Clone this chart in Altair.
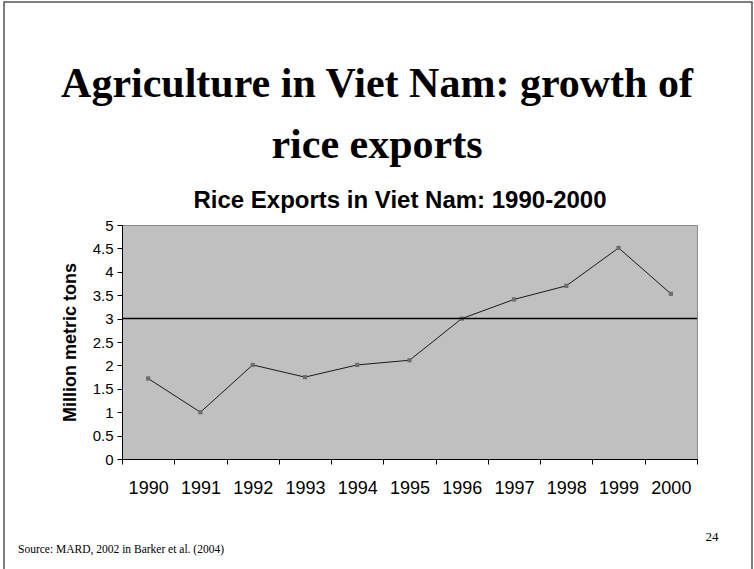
import altair as alt
import pandas as pd

# ---- data ----
years = ["1990", "1991", "1992", "1993", "1994", "1995", "1996", "1997", "1998", "1999", "2000"]
exports = [1.72, 1.0, 2.01, 1.75, 2.01, 2.11, 3.0, 3.41, 3.7, 4.51, 3.53]
ref_value = [3]
y_ticks = [0, 0.5, 1, 1.5, 2, 2.5, 3, 3.5, 4, 4.5, 5]

title_lines = ["Agriculture in Viet Nam: growth of", "rice exports"]
subtitle = "Rice Exports in Viet Nam: 1990-2000"
y_title = "Million metric tons"
source_text = "Source: MARD, 2002 in Barker et al. (2004)"
page_number = "24"

df = pd.DataFrame({"year": years, "exports": exports})

PAD_L, PAD_T = 122, 225
W, H = 575, 234

x_enc = alt.X(
    "year:O",
    scale=alt.Scale(paddingInner=0, paddingOuter=0),
    axis=alt.Axis(
        title=None, labelAngle=0, tickBand="extent", tickSize=5,
        tickColor="black", domainColor="black", labelFontSize=18,
        labelFont="Liberation Sans", labelColor="black", labelPadding=15,
    ),
)
y_scale = alt.Scale(domain=[0, 5], nice=False)
y_axis = alt.Axis(
    values=y_ticks, format="~g", grid=False, tickSize=5, tickColor="black",
    domainColor="black", labelFontSize=15, labelFont="Liberation Sans",
    labelColor="black", labelPadding=4, labelOverlap=False, labelFlush=False,
    title=y_title, titleFont="Liberation Sans",
    titleFontSize=18, titleFontWeight="bold", titleColor="black",
    titleAngle=-90, titleX=-52, titleY=H / 2, titleAlign="center",
    titleBaseline="middle",
)

line = alt.Chart(df).mark_line(color="#1a1a1a", strokeWidth=1).encode(
    x=x_enc, y=alt.Y("exports:Q", scale=y_scale, axis=y_axis)
)
pts = alt.Chart(df).mark_square(size=18, color="#6e6e6e", opacity=1).encode(
    x=x_enc, y=alt.Y("exports:Q", scale=y_scale, axis=y_axis)
)
ref = alt.Chart(pd.DataFrame({"v": ref_value})).mark_rule(color="black", strokeWidth=1.5).encode(
    y=alt.Y("v:Q", scale=y_scale, axis=y_axis)
)


def text_layer(txt, px, py, size, font, weight="normal", align="center"):
    return alt.Chart(pd.DataFrame({"t": [txt]})).mark_text(
        fontSize=size, font=font, fontWeight=weight, align=align,
        baseline="alphabetic", color="black",
    ).encode(text="t:N", x=alt.value(px - PAD_L), y=alt.value(py - PAD_T))


t1 = text_layer(title_lines[0], 377, 97, 42, "Liberation Serif", "bold")
t2 = text_layer(title_lines[1], 377, 158, 42, "Liberation Serif", "bold")
st = text_layer(subtitle, 400, 208, 24, "Liberation Sans", "bold")
src = text_layer(source_text, 18, 553, 11.5, "Liberation Serif", align="left")
pg = text_layer(page_number, 712, 541, 13, "Liberation Serif")

border = alt.Chart(pd.DataFrame({"b": [0]})).mark_rect(
    fill=None, stroke="#555555", strokeWidth=1.5
).encode(
    x=alt.value(4 - PAD_L), x2=alt.value(752 - PAD_L),
    y=alt.value(2 - PAD_T), y2=alt.value(600 - PAD_T),
)

chart = alt.layer(line, pts, ref, t1, t2, st, src, pg, border).properties(
    width=W, height=H,
    autosize=alt.AutoSizeParams(type="none"),
    padding={"left": PAD_L, "top": PAD_T, "right": 754 - PAD_L - W, "bottom": 569 - PAD_T - H},
    background="white",
).configure_view(
    fill="#c0c0c0", stroke="#8a8a8a", strokeWidth=1,
)

chart.save("out.html", embed_options={"renderer": "svg", "actions": False})
